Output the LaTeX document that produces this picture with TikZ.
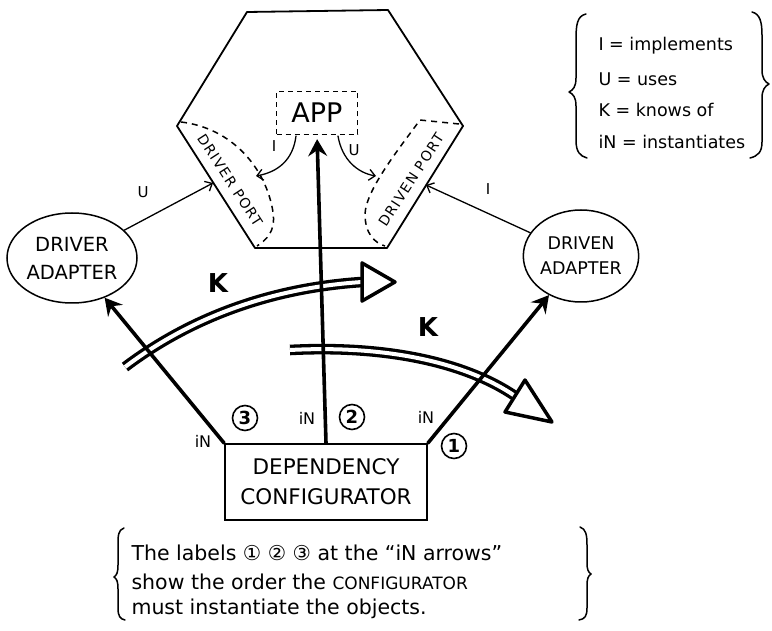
\documentclass[tikz,border=0pt]{standalone}
\usepackage{fontspec}
\setmainfont{DejaVu Sans}
\newfontfamily\portfont[LetterSpace=10]{DejaVu Sans}
\usetikzlibrary{arrows.meta,shapes.geometric}

\begin{document}
\begin{tikzpicture}[x=1pt,y=-1pt,
  ink/.style={line cap=round,line join=round},
  hexline/.style={ink,line width=1.8pt},
  portline/.style={line width=1.5pt,dash pattern=on 6pt off 5pt},
  portlbl/.style={font=\portfont\fontsize{14}{14}\selectfont,inner sep=1pt},
  thinarrow/.style={ink,line width=1.3pt,-{Straight Barb[length=6pt,width=11pt,line width=1.3pt]}},
  boldarrow/.style={ink,line width=3.6pt,-{Stealth[length=17pt,width=19pt,inset=6pt]}},
  kshaft/.style={line width=3.3pt,double=white,double distance=4pt},
  khead/.style={ink,line width=3.5pt,fill=white},
  adapter/.style={ellipse,draw,line width=1.5pt,inner sep=0pt,align=center},
  numcirc/.style={circle,draw,line width=1.6pt,minimum size=25pt,inner sep=0pt,
    font=\fontsize{18}{18}\selectfont\bfseries},
  lbl/.style={font=\fontsize{15}{15}\selectfont},
  inlbl/.style={font=\fontsize{16}{16}\selectfont},
  klbl/.style={font=\fontsize{26}{26}\selectfont\bfseries},
  legend/.style={anchor=west,font=\fontsize{17.5}{17.5}\selectfont},
  note/.style={anchor=west,font=\fontsize{20.5}{20.5}\selectfont},
  brace/.style={ink,line width=1.5pt}
]
\useasboundingbox (0,0) rectangle (772,631);

% hexagon of the application
\coordinate (hTL) at (247,12);
\coordinate (hTR) at (388,10);
\coordinate (hR) at (463,126);
\coordinate (hBR) at (387,248);
\coordinate (hBL) at (255,248);
\coordinate (hL) at (177,126);
\draw[hexline] (hTL) -- (hTR) -- (hR) -- (hBR) -- (hBL) -- (hL) -- cycle;

% ports (dashed regions along the lower sides)
\draw[portline] (181,122) .. controls (232,128) and (266,168) .. (273,212)
  .. controls (276,232) and (266,240) .. (257,246);
\draw[portline] (459,124) -- (420,120) .. controls (398,150) and (366,190) .. (365,214)
  .. controls (365,234) and (375,243) .. (385,246);
\node[portlbl,rotate=-57] (drvP) at (230,180) {DRIVER PORT};
\node[portlbl,rotate=57] (drnP) at (411,180) {DRIVEN PORT};

% application core
\node[draw,line width=1.3pt,dash pattern=on 5pt off 4pt,minimum width=81pt,minimum height=43pt,
  font=\fontsize{27}{27}\selectfont] (app) at (317,113) {APP};
\coordinate (iS) at (296,136);
\coordinate (iE) at (256,176);
\coordinate (uS) at (338,136);
\coordinate (uE) at (376,176);
\draw[thinarrow] (iS) .. controls (293,160) and (278,172) .. (iE);
\draw[thinarrow] (uS) .. controls (342,160) and (358,173) .. (uE);
\node[lbl] (iLbl) at (274,146) {I};
\node[lbl] (uLbl) at (354,150) {U};

% adapters
\node[adapter,minimum width=130pt,minimum height=90pt,font=\fontsize{19.5}{28}\selectfont]
  (drvA) at (72,258) {DRIVER\\ADAPTER};
\node[adapter,minimum width=112pt,minimum height=92pt,font=\fontsize{17.5}{25}\selectfont]
  (drnA) at (581,256) {DRIVEN\\ADAPTER};
\coordinate (pL) at (213,183);
\coordinate (pR) at (426,185);
\draw[thinarrow] (drvA) -- (pL);
\draw[thinarrow] (drnA) -- (pR);
\node[lbl] (uLbl2) at (143,192) {U};
\node[lbl] (iLbl2) at (488,189) {I};

% "knows of" arrows
\coordinate (k1s) at (125,367);
\coordinate (k1e) at (362,282);
\draw[kshaft] (k1s) .. controls (190,318) and (270,288) .. (k1e);
\coordinate (k1a) at (362,263);
\coordinate (k1b) at (362,301);
\coordinate (k1t) at (395,282);
\draw[khead] (k1a) -- (k1t) -- (k1b) -- cycle;
\node[klbl] (k1Lbl) at (218,283) {K};

\coordinate (k2s) at (290,350);
\coordinate (k2e) at (515,396);
\draw[kshaft] (k2s) .. controls (385,345) and (465,362) .. (k2e);
\coordinate (k2a) at (525,380);
\coordinate (k2b) at (505,412);
\coordinate (k2t) at (552,422);
\draw[khead] (k2a) -- (k2t) -- (k2b) -- cycle;
\node[klbl] (k2Lbl) at (428,327) {K};

% dependency configurator
\node[draw,line width=1.8pt,minimum width=202pt,minimum height=76pt,align=center,
  font=\fontsize{21.5}{30}\selectfont] (cfg) at (326,482) {DEPENDENCY\\CONFIGURATOR};

% instantiation arrows
\draw[boldarrow] (cfg.north west) -- (drvA);
\draw[boldarrow,shorten >=4pt] (cfg.north) -- (app.south);
\draw[boldarrow] (cfg.north east) -- (drnA);

\node[inlbl] (in3) at (203,441) {iN};
\node[numcirc] (n3) at (245,418) {3};
\node[inlbl] (in2) at (307,418) {iN};
\node[numcirc] (n2) at (352,417) {2};
\node[inlbl] (in1) at (426,417) {iN};
\node[numcirc] (n1) at (454,446) {1};

% legend
\draw[brace] (586,14) .. controls (577,16) and (576,25) .. (576,40) -- (576,78)
  .. controls (576,87) and (573,90) .. (569,92) .. controls (573,94) and (576,97) .. (576,106)
  -- (576,140) .. controls (576,152) and (580,156) .. (587,158);
\draw[brace] (752,12) .. controls (760,14) and (762,22) .. (762,35) -- (762,70)
  .. controls (762,78) and (765,82) .. (769,84) .. controls (765,86) and (762,90) .. (762,98)
  -- (762,142) .. controls (762,152) and (758,156) .. (750,158);
\node[legend] (lg1) at (595,46) {I = implements};
\node[legend] (lg2) at (595,79) {U = uses};
\node[legend] (lg3) at (595,110) {K = knows of};
\node[legend] (lg4) at (595,142) {iN = instantiates};

% note on the order
\draw[brace] (124,528) .. controls (118,530) and (118,536) .. (118,545) -- (118,565)
  .. controls (118,572) and (117,575) .. (114,577) .. controls (117,579) and (118,582) .. (118,589)
  -- (118,608) .. controls (118,616) and (120,619) .. (125,620);
\draw[brace] (580,527) .. controls (586,529) and (587,535) .. (587,545) -- (587,563)
  .. controls (587,569) and (588,572) .. (591,574) .. controls (588,576) and (587,579) .. (587,586)
  -- (587,608) .. controls (587,616) and (585,619) .. (579,620);
\node[note] (nt1) at (128,553) {The labels ① ② ③ at the “iN arrows”};
\node[note] (nt2) at (128,582) {show the order the {\fontsize{17}{17}\selectfont CONFIGURATOR}};
\node[note] (nt3) at (128,609) {must instantiate the objects.};
\end{tikzpicture}
\end{document}
